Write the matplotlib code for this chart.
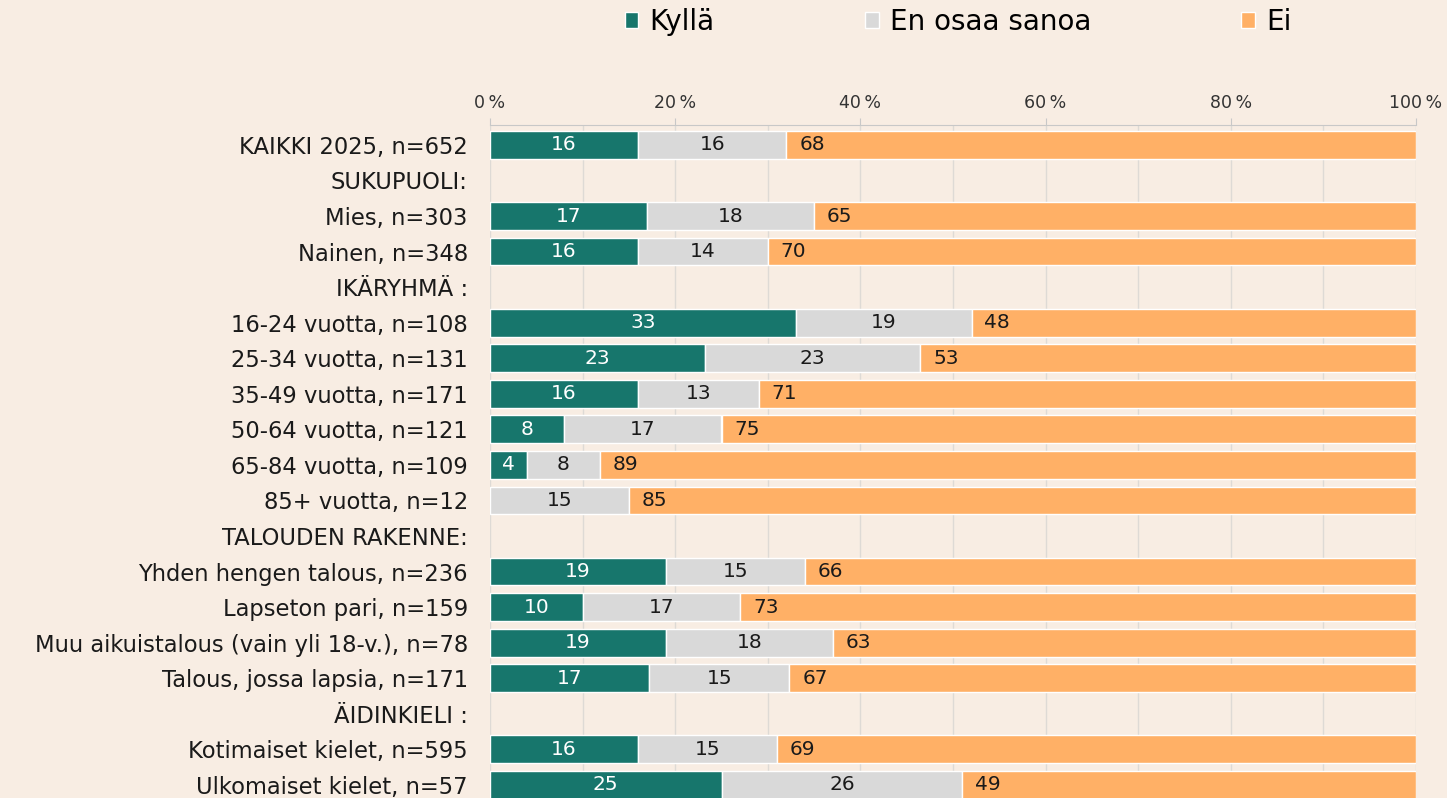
import numpy as np
import matplotlib.pyplot as plt
from matplotlib.patches import Patch

# rows from top to bottom; None marks a group header row without a bar
labels = ['KAIKKI 2025, n=652', 'SUKUPUOLI:', 'Mies, n=303', 'Nainen, n=348',
          'IKÄRYHMÄ :', '16-24 vuotta, n=108', '25-34 vuotta, n=131',
          '35-49 vuotta, n=171', '50-64 vuotta, n=121', '65-84 vuotta, n=109',
          '85+ vuotta, n=12', 'TALOUDEN RAKENNE:', 'Yhden hengen talous, n=236',
          'Lapseton pari, n=159', 'Muu aikuistalous (vain yli 18-v.), n=78',
          'Talous, jossa lapsia, n=171', 'ÄIDINKIELI :',
          'Kotimaiset kielet, n=595', 'Ulkomaiset kielet, n=57']
kylla = [16, None, 17, 16, None, 33, 23, 16, 8, 4, 0, None, 19, 10, 19, 17, None, 16, 25]
eos = [16, None, 18, 14, None, 19, 23, 13, 17, 8, 15, None, 15, 17, 18, 15, None, 15, 26]
ei = [68, None, 65, 70, None, 48, 53, 71, 75, 89, 85, None, 66, 73, 63, 67, None, 69, 49]
series_names = ['Kyllä', 'En osaa sanoa', 'Ei']

bg = '#f8ede3'
colors = ['#17766c', '#d9d9d9', '#ffb066']
txt_colors = ['white', '#1a1a1a', '#1a1a1a']

plt.rcParams['font.family'] = ['DejaVu Sans']

fig = plt.figure(figsize=(14.47, 7.98), dpi=100, facecolor=bg)
ax = fig.add_axes([490 / 1447, 0, 926 / 1447, 1 - 125 / 798])
ax.set_facecolor(bg)

n = len(labels)
y = np.arange(n)
bar_h = 0.78

for i in range(n):
    if kylla[i] is None:
        continue
    vals = np.array([kylla[i], eos[i], ei[i]], dtype=float)
    widths = vals / vals.sum() * 100
    left = 0
    for j in range(3):
        w = widths[j]
        if w > 0:
            ax.barh(y[i], w, left=left, height=bar_h, color=colors[j],
                    edgecolor='white', linewidth=1, zorder=3)
            if j == 2:
                ax.text(left + 1.4, y[i], str(int(vals[j])), ha='left', va='center',
                        fontsize=14.5, color=txt_colors[j], zorder=4)
            else:
                ax.text(left + w / 2, y[i], str(int(vals[j])), ha='center', va='center',
                        fontsize=14.5, color=txt_colors[j], zorder=4)
        left += w

ax.set_xlim(0, 100)
ax.set_ylim(n - 1 + 0.37, -0.56)
ax.set_yticks(y)
ax.set_yticklabels(labels, fontsize=16.3, color='#1a1a1a')
ax.tick_params(axis='y', length=0, pad=16)

ax.xaxis.tick_top()
ax.set_xticks(np.arange(0, 101, 20))
ax.set_xticklabels([f'{v}\u2009%' for v in range(0, 101, 20)], fontsize=12.5, color='#333333')
ax.set_xticks(np.arange(0, 101, 10), minor=True)
ax.tick_params(axis='x', which='major', length=5, color='#c8c8c8', pad=4)
ax.tick_params(axis='x', which='minor', length=0)
ax.grid(axis='x', which='both', color='#dedad5', linewidth=1, zorder=0)

for s in ['left', 'right', 'bottom']:
    ax.spines[s].set_visible(False)
ax.spines['top'].set_color('#c8c8c8')

handles = [Patch(facecolor=c, edgecolor='white') for c in colors]
fig.legend(handles, series_names, loc='center', bbox_to_anchor=(958 / 1447, 1 - 22 / 798),
           ncol=3, frameon=False, fontsize=20, handlelength=0.5, handleheight=0.5,
           handletextpad=0.4, columnspacing=5.4)

fig.savefig('out.png', dpi=100, facecolor=bg)
